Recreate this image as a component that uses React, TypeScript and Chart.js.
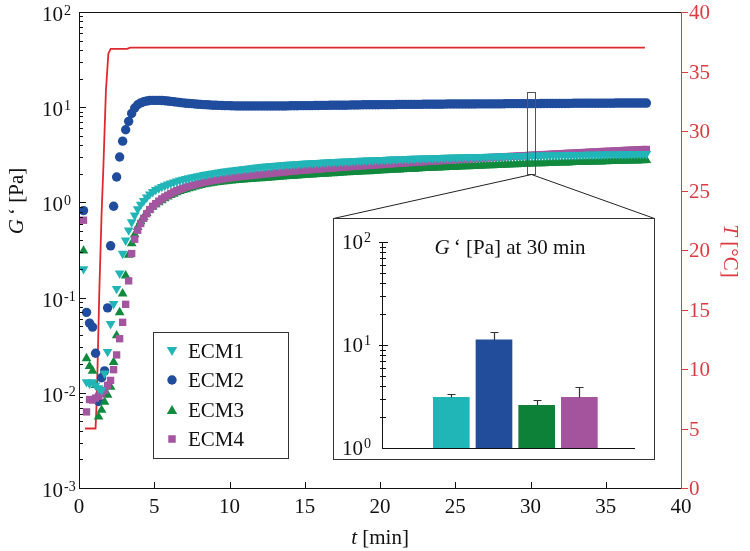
import React, { useEffect, useRef } from 'react';
import { Chart, registerables } from 'chart.js';
Chart.register(...registerables);

const SERIF = "'Liberation Serif', 'Times New Roman', serif";

// ---------------- data ----------------
const TIME_EARLY = [0.3, 0.5, 0.7, 0.9, 1.1, 1.3, 1.5, 1.7, 1.9, 2.1, 2.3, 2.5, 2.7, 2.9, 3.1, 3.3, 3.5, 3.7, 3.9, 4.1, 4.3, 4.5, 4.7, 4.9];
const TIME_LATE = [
  5.1, 5.3, 5.5, 5.7, 5.9, 6.1, 6.3, 6.5, 6.7, 6.9,
  7.1, 7.3, 7.5, 7.7, 7.9, 8.1, 8.3, 8.5, 8.7, 8.9,
  9.1, 9.3, 9.5, 9.7, 9.9, 10.1, 10.3, 10.5, 10.7, 10.9,
  11.1, 11.3, 11.5, 11.7, 11.9, 12.1, 12.3, 12.5, 12.7, 12.9,
  13.1, 13.3, 13.5, 13.7, 13.9, 14.1, 14.3, 14.5, 14.7, 14.9,
  15.1, 15.3, 15.5, 15.7, 15.9, 16.1, 16.3, 16.5, 16.7, 16.9,
  17.1, 17.3, 17.5, 17.7, 17.9, 18.1, 18.3, 18.5, 18.7, 18.9,
  19.1, 19.3, 19.5, 19.7, 19.9, 20.1, 20.3, 20.5, 20.7, 20.9,
  21.1, 21.3, 21.5, 21.7, 21.9, 22.1, 22.3, 22.5, 22.7, 22.9,
  23.1, 23.3, 23.5, 23.7, 23.9, 24.1, 24.3, 24.5, 24.7, 24.9,
  25.1, 25.3, 25.5, 25.7, 25.9, 26.1, 26.3, 26.5, 26.7, 26.9,
  27.1, 27.3, 27.5, 27.7, 27.9, 28.1, 28.3, 28.5, 28.7, 28.9,
  29.1, 29.3, 29.5, 29.7, 29.9, 30.1, 30.3, 30.5, 30.7, 30.9,
  31.1, 31.3, 31.5, 31.7, 31.9, 32.1, 32.3, 32.5, 32.7, 32.9,
  33.1, 33.3, 33.5, 33.7, 33.9, 34.1, 34.3, 34.5, 34.7, 34.9,
  35.1, 35.3, 35.5, 35.7, 35.9, 36.1, 36.3, 36.5, 36.7, 36.9,
  37.1, 37.3, 37.5, 37.7,
];

const ECM1_EARLY = [0.2, 0.013, 0.0125, 0.013, 0.012, 0.0112, 0.0106, 0.016, 0.027, 0.053, 0.086, 0.124, 0.18, 0.29, 0.4, 0.51, 0.62, 0.73, 0.85, 0.95, 1.04, 1.13, 1.22, 1.29];
const ECM1_LATE = [
  1.36, 1.41, 1.46, 1.5, 1.55, 1.59, 1.63, 1.67, 1.71, 1.74,
  1.77, 1.8, 1.83, 1.86, 1.89, 1.92, 1.95, 1.97, 2.0, 2.02,
  2.05, 2.07, 2.1, 2.12, 2.14, 2.16, 2.18, 2.2, 2.22, 2.24,
  2.26, 2.28, 2.3, 2.32, 2.34, 2.36, 2.38, 2.39, 2.41, 2.42,
  2.44, 2.45, 2.47, 2.48, 2.5, 2.51, 2.52, 2.53, 2.55, 2.56,
  2.57, 2.58, 2.59, 2.6, 2.61, 2.62, 2.63, 2.64, 2.65, 2.66,
  2.67, 2.68, 2.69, 2.7, 2.71, 2.72, 2.73, 2.74, 2.75, 2.76,
  2.77, 2.77, 2.78, 2.79, 2.8, 2.8, 2.81, 2.82, 2.83, 2.83,
  2.84, 2.85, 2.86, 2.86, 2.87, 2.88, 2.88, 2.89, 2.9, 2.9,
  2.91, 2.92, 2.92, 2.93, 2.93, 2.94, 2.95, 2.95, 2.96, 2.97,
  2.97, 2.98, 2.98, 2.99, 3.0, 3.0, 3.01, 3.01, 3.02, 3.02,
  3.03, 3.03, 3.04, 3.04, 3.05, 3.05, 3.06, 3.06, 3.07, 3.07,
  3.08, 3.08, 3.09, 3.09, 3.1, 3.1, 3.11, 3.11, 3.12, 3.12,
  3.13, 3.13, 3.13, 3.14, 3.14, 3.15, 3.15, 3.16, 3.16, 3.16,
  3.17, 3.17, 3.17, 3.18, 3.18, 3.19, 3.19, 3.19, 3.2, 3.2,
  3.2, 3.21, 3.21, 3.21, 3.22, 3.22, 3.22, 3.23, 3.23, 3.23,
  3.24, 3.24, 3.24, 3.24,
];

const ECM2_EARLY = [0.82, 0.07, 0.054, 0.049, 0.026, 0.0081, 0.0144, 0.017, 0.078, 0.35, 0.91, 1.85, 3.0, 4.4, 5.8, 7.1, 8.6, 9.8, 10.6, 11.1, 11.4, 11.6, 11.75, 11.8];
const ECM2_LATE = [
  11.8, 11.8, 11.75, 11.7, 11.6, 11.5, 11.4, 11.3, 11.2, 11.1,
  11.0, 10.95, 10.9, 10.8, 10.75, 10.7, 10.65, 10.6, 10.55, 10.5,
  10.48, 10.45, 10.42, 10.4, 10.38, 10.35, 10.33, 10.3, 10.3, 10.3,
  10.3, 10.3, 10.3, 10.3, 10.3, 10.3, 10.3, 10.3, 10.3, 10.3,
  10.3, 10.3, 10.3, 10.3, 10.32, 10.35, 10.35, 10.35, 10.38, 10.4,
  10.4, 10.4, 10.4, 10.42, 10.42, 10.45, 10.45, 10.45, 10.48, 10.5,
  10.5, 10.5, 10.5, 10.5, 10.52, 10.55, 10.55, 10.55, 10.58, 10.6,
  10.6, 10.6, 10.6, 10.6, 10.62, 10.65, 10.65, 10.65, 10.65, 10.65,
  10.68, 10.7, 10.7, 10.7, 10.7, 10.7, 10.7, 10.7, 10.72, 10.75,
  10.75, 10.75, 10.75, 10.75, 10.75, 10.75, 10.78, 10.8, 10.8, 10.8,
  10.8, 10.8, 10.8, 10.8, 10.8, 10.8, 10.82, 10.85, 10.85, 10.85,
  10.85, 10.85, 10.85, 10.85, 10.85, 10.85, 10.88, 10.9, 10.9, 10.9,
  10.9, 10.9, 10.9, 10.9, 10.9, 10.9, 10.9, 10.9, 10.92, 10.95,
  10.95, 10.95, 10.95, 10.95, 10.95, 10.95, 10.95, 10.95, 10.98, 11.0,
  11.0, 11.0, 11.0, 11.0, 11.0, 11.0, 11.0, 11.0, 11.0, 11.0,
  11.0, 11.0, 11.02, 11.05, 11.05, 11.05, 11.05, 11.05, 11.05, 11.05,
  11.05, 11.05, 11.05, 11.05,
];

const ECM3_EARLY = [0.31, 0.023, 0.019, 0.017, 0.012, 0.0056, 0.0066, 0.008, 0.0095, 0.0115, 0.021, 0.04, 0.07, 0.11, 0.17, 0.28, 0.37, 0.46, 0.55, 0.63, 0.7, 0.77, 0.84, 0.9];
const ECM3_LATE = [
  0.95, 1.0, 1.05, 1.1, 1.15, 1.19, 1.23, 1.27, 1.31, 1.34,
  1.37, 1.4, 1.43, 1.46, 1.49, 1.52, 1.54, 1.56, 1.58, 1.6,
  1.62, 1.63, 1.65, 1.66, 1.68, 1.69, 1.7, 1.71, 1.72, 1.73,
  1.74, 1.75, 1.76, 1.77, 1.78, 1.79, 1.8, 1.81, 1.82, 1.83,
  1.84, 1.85, 1.86, 1.87, 1.88, 1.89, 1.9, 1.91, 1.92, 1.93,
  1.94, 1.95, 1.96, 1.97, 1.98, 1.99, 1.99, 2.0, 2.01, 2.02,
  2.03, 2.04, 2.05, 2.06, 2.06, 2.07, 2.08, 2.09, 2.1, 2.11,
  2.11, 2.12, 2.13, 2.14, 2.15, 2.16, 2.17, 2.18, 2.19, 2.2,
  2.2, 2.21, 2.22, 2.23, 2.24, 2.25, 2.25, 2.26, 2.27, 2.28,
  2.29, 2.3, 2.3, 2.31, 2.32, 2.33, 2.33, 2.34, 2.35, 2.36,
  2.36, 2.37, 2.38, 2.39, 2.39, 2.4, 2.41, 2.42, 2.42, 2.43,
  2.44, 2.45, 2.45, 2.46, 2.47, 2.48, 2.48, 2.49, 2.5, 2.5,
  2.51, 2.52, 2.53, 2.54, 2.55, 2.55, 2.56, 2.56, 2.57, 2.57,
  2.58, 2.59, 2.6, 2.6, 2.61, 2.61, 2.62, 2.62, 2.63, 2.64,
  2.64, 2.65, 2.65, 2.66, 2.66, 2.67, 2.67, 2.68, 2.68, 2.7,
  2.7, 2.71, 2.71, 2.72, 2.72, 2.73, 2.73, 2.74, 2.74, 2.75,
  2.75, 2.76, 2.76, 2.77,
];

const ECM4_EARLY = [0.65, 0.0063, 0.0085, 0.0084, 0.0088, 0.0092, 0.0098, 0.0106, 0.012, 0.0135, 0.0175, 0.025, 0.037, 0.055, 0.085, 0.15, 0.29, 0.41, 0.51, 0.6, 0.68, 0.76, 0.84, 0.91];
const ECM4_LATE = [
  0.97, 1.03, 1.09, 1.14, 1.19, 1.24, 1.29, 1.33, 1.37, 1.41,
  1.45, 1.48, 1.51, 1.54, 1.57, 1.6, 1.63, 1.65, 1.68, 1.7,
  1.72, 1.74, 1.76, 1.78, 1.8, 1.82, 1.84, 1.85, 1.87, 1.88,
  1.9, 1.91, 1.93, 1.94, 1.96, 1.97, 1.99, 2.0, 2.02, 2.03,
  2.05, 2.06, 2.08, 2.09, 2.11, 2.12, 2.14, 2.15, 2.17, 2.18,
  2.19, 2.2, 2.22, 2.23, 2.24, 2.25, 2.27, 2.28, 2.29, 2.3,
  2.32, 2.33, 2.34, 2.35, 2.37, 2.38, 2.39, 2.4, 2.42, 2.43,
  2.44, 2.45, 2.47, 2.48, 2.49, 2.5, 2.52, 2.53, 2.54, 2.55,
  2.57, 2.58, 2.59, 2.6, 2.62, 2.63, 2.64, 2.65, 2.67, 2.68,
  2.69, 2.7, 2.72, 2.73, 2.74, 2.75, 2.77, 2.78, 2.79, 2.8,
  2.82, 2.83, 2.84, 2.85, 2.87, 2.88, 2.89, 2.9, 2.92, 2.93,
  2.94, 2.95, 2.97, 2.98, 2.99, 3.0, 3.02, 3.03, 3.04, 3.05,
  3.07, 3.08, 3.09, 3.1, 3.12, 3.13, 3.14, 3.15, 3.17, 3.18,
  3.19, 3.2, 3.22, 3.23, 3.24, 3.25, 3.27, 3.28, 3.29, 3.3,
  3.32, 3.33, 3.34, 3.35, 3.37, 3.38, 3.39, 3.4, 3.42, 3.43,
  3.44, 3.45, 3.47, 3.48, 3.49, 3.5, 3.52, 3.53, 3.54, 3.55,
  3.57, 3.58, 3.59, 3.6,
];

const TEMP_TIME = [0.4, 1.1, 1.18, 1.35, 1.5, 1.62, 1.79, 1.95, 2.1, 3.2, 3.4, 37.6];
const TEMP_C = [5, 5, 7.4, 16.5, 23, 27, 33.4, 36.5, 36.9, 36.9, 37, 37];

const SERIES_NAMES = ['ECM1', 'ECM2', 'ECM3', 'ECM4'];
const X_TICKS = [0, 5, 10, 15, 20, 25, 30, 35, 40];
const T_TICKS = [0, 5, 10, 15, 20, 25, 30, 35, 40];
const G_DECADES = [-3, -2, -1, 0, 1, 2];
const MINOR_MULT = [2, 3, 4, 5, 6, 7, 8, 9];

// zoom window around t = 30 min
const ZOOM_T = [29.8, 30.3];
const ZOOM_G = [1.97, 14.3];

// inset: G' at 30 min
const INSET_POS = [1, 2, 3, 4];
const INSET_G30 = [3.1, 11.2, 2.6, 3.1];
const INSET_ERR = [0.25, 2.2, 0.3, 0.8];
const INSET_DECADES = [0, 1, 2];

// ---------------- styles ----------------
const C_ECM1 = '#22B5B7';
const C_ECM2 = '#1F4C9C';
const C_ECM3 = '#118A3E';
const C_ECM4 = '#A4559F';
const C_RED = '#DD2A30';
const C_RED_AXIS = '#DA3C41';
const BAR_COLORS = ['#20B6B8', '#214D9B', '#0E8139', '#A4549D'];
const INK = '#111';
const INSET_BOX = { left: 333, top: 218, width: 322, height: 242 };

type Seg = { t: string; it?: boolean };
function richWidth(ctx: CanvasRenderingContext2D, segs: Seg[], size: number) {
  let w = 0;
  for (const s of segs) {
    ctx.font = `${s.it ? 'italic ' : ''}${size}px ${SERIF}`;
    w += ctx.measureText(s.t).width;
  }
  return w;
}
function drawRich(ctx: CanvasRenderingContext2D, segs: Seg[], x: number, y: number, size: number, color: string) {
  const w = richWidth(ctx, segs, size);
  let cx = x - w / 2;
  ctx.fillStyle = color;
  ctx.textAlign = 'left';
  ctx.textBaseline = 'alphabetic';
  for (const s of segs) {
    ctx.font = `${s.it ? 'italic ' : ''}${size}px ${SERIF}`;
    ctx.fillText(s.t, cx, y);
    cx += ctx.measureText(s.t).width;
  }
}
function drawPow(ctx: CanvasRenderingContext2D, e: number, xRight: number, y: number, baseDy: number, expDy: number) {
  ctx.fillStyle = INK;
  ctx.textBaseline = 'alphabetic';
  ctx.font = `21px ${SERIF}`;
  ctx.textAlign = 'right';
  ctx.fillText('10', xRight, y + baseDy);
  ctx.font = `14px ${SERIF}`;
  ctx.textAlign = 'left';
  ctx.fillText(String(e), xRight + 1, y + expDy);
}
function marker(ctx: CanvasRenderingContext2D, kind: string, x: number, y: number, r: number, color: string) {
  ctx.fillStyle = color;
  ctx.beginPath();
  if (kind === 'circle') {
    ctx.arc(x, y, r, 0, Math.PI * 2);
  } else if (kind === 'tri') {
    ctx.moveTo(x, y - r);
    ctx.lineTo(x + r * 0.866, y + r / 2);
    ctx.lineTo(x - r * 0.866, y + r / 2);
    ctx.closePath();
  } else if (kind === 'triDown') {
    ctx.moveTo(x, y + r);
    ctx.lineTo(x + r * 0.866, y - r / 2);
    ctx.lineTo(x - r * 0.866, y - r / 2);
    ctx.closePath();
  } else {
    const s = r * 0.7071;
    ctx.rect(x - s, y - s, 2 * s, 2 * s);
  }
  ctx.fill();
}

const mainDecor = {
  id: 'mainDecor',
  afterDatasetsDraw(chart: any) {
    const ctx: CanvasRenderingContext2D = chart.ctx;
    const a = chart.chartArea;
    const sx = chart.scales.x, sy = chart.scales.y, sr = chart.scales.y1;
    ctx.save();

    // zoom window + connectors to inset
    const rx0 = Math.round(sx.getPixelForValue(ZOOM_T[0]));
    const rx1 = Math.round(sx.getPixelForValue(ZOOM_T[1]));
    const ryTop = Math.round(sy.getPixelForValue(ZOOM_G[1]));
    const ryBot = Math.round(sy.getPixelForValue(ZOOM_G[0]));
    ctx.strokeStyle = '#555';
    ctx.lineWidth = 1;
    ctx.strokeRect(rx0 + 0.5, ryTop + 0.5, rx1 - rx0, ryBot - ryTop);
    const cxm = (rx0 + rx1) / 2 + 0.5;
    ctx.strokeStyle = '#222';
    ctx.beginPath();
    ctx.moveTo(cxm, ryBot + 0.5);
    ctx.lineTo(INSET_BOX.left + 0.5, INSET_BOX.top + 0.5);
    ctx.moveTo(cxm, ryBot + 0.5);
    ctx.lineTo(INSET_BOX.left + INSET_BOX.width - 0.5, INSET_BOX.top + 0.5);
    ctx.stroke();

    // frame
    ctx.strokeStyle = INK;
    ctx.lineWidth = 1;
    ctx.beginPath();
    ctx.moveTo(a.left, a.top + 0.5);
    ctx.lineTo(a.right, a.top + 0.5);
    ctx.moveTo(a.left + 0.5, a.top);
    ctx.lineTo(a.left + 0.5, a.bottom + 1);
    ctx.moveTo(a.left, a.bottom + 0.5);
    ctx.lineTo(a.right, a.bottom + 0.5);
    for (const e of G_DECADES) {
      const v = Math.pow(10, e);
      const py = Math.round(sy.getPixelForValue(v)) + 0.5;
      if (e > -3 && e < 2) {
        ctx.moveTo(a.left, py);
        ctx.lineTo(a.left + 7, py);
      }
      if (e < 2) {
        for (const m of MINOR_MULT) {
          const pm = Math.round(sy.getPixelForValue(m * v)) + 0.5;
          ctx.moveTo(a.left, pm);
          ctx.lineTo(a.left + 4, pm);
        }
      }
    }
    for (const t of X_TICKS) {
      if (t === 0 || t === 40) continue;
      const px = Math.round(sx.getPixelForValue(t)) + 0.5;
      ctx.moveTo(px, a.bottom);
      ctx.lineTo(px, a.bottom - 6);
    }
    ctx.stroke();

    // right (temperature) axis
    ctx.strokeStyle = C_RED_AXIS;
    ctx.beginPath();
    ctx.moveTo(a.right + 0.5, a.top);
    ctx.lineTo(a.right + 0.5, a.bottom + 1);
    for (const t of T_TICKS) {
      const py = Math.round(sr.getPixelForValue(t)) + 0.5;
      ctx.moveTo(a.right, py);
      ctx.lineTo(a.right + 7, py);
    }
    ctx.stroke();

    // tick labels
    for (const e of G_DECADES) {
      drawPow(ctx, e, 63, sy.getPixelForValue(Math.pow(10, e)), 9, 3);
    }
    ctx.font = `21px ${SERIF}`;
    ctx.fillStyle = INK;
    ctx.textAlign = 'center';
    ctx.textBaseline = 'alphabetic';
    for (const t of X_TICKS) {
      ctx.fillText(String(t), sx.getPixelForValue(t), 513);
    }
    ctx.fillStyle = C_RED_AXIS;
    ctx.textAlign = 'left';
    for (const t of T_TICKS) {
      ctx.fillText(String(t), a.right + 8, sr.getPixelForValue(t) + 7);
    }

    // axis titles
    drawRich(ctx, [{ t: 't', it: true }, { t: ' [min]' }], 380, 544, 21, INK);
    ctx.save();
    ctx.translate(23, 201);
    ctx.rotate(-Math.PI / 2);
    drawRich(ctx, [{ t: 'G', it: true }, { t: '\u2009\u2018 [Pa]' }], 0, 0, 21, INK);
    ctx.restore();
    ctx.save();
    ctx.translate(724, 251);
    ctx.rotate(Math.PI / 2);
    drawRich(ctx, [{ t: 'T', it: true }, { t: ' [\u00B0C]' }], 0, 0, 21, C_RED_AXIS);
    ctx.restore();

    // legend
    const lx = 153, ly = 332, lw = 135, lh = 126;
    ctx.fillStyle = '#fff';
    ctx.fillRect(lx, ly, lw, lh);
    ctx.strokeStyle = '#333';
    ctx.strokeRect(lx + 0.5, ly + 0.5, lw, lh);
    const kinds = ['triDown', 'circle', 'tri', 'rect'];
    const cols = [C_ECM1, C_ECM2, C_ECM3, C_ECM4];
    const radii = [6, 4.7, 6, 5.3];
    const rows = [351, 380, 410, 439];
    SERIES_NAMES.forEach((name, i) => {
      const my = rows[i] + (kinds[i] === 'triDown' ? -1 : kinds[i] === 'tri' ? 1 : 0);
      marker(ctx, kinds[i], 172, my, radii[i], cols[i]);
      ctx.fillStyle = INK;
      ctx.font = `21px ${SERIF}`;
      ctx.textAlign = 'left';
      ctx.textBaseline = 'alphabetic';
      ctx.fillText(name, 188, rows[i] + 7);
    });

    ctx.restore();
  },
};

const insetDecor = {
  id: 'insetDecor',
  afterDatasetsDraw(chart: any) {
    const ctx: CanvasRenderingContext2D = chart.ctx;
    const a = chart.chartArea;
    const sx = chart.scales.x, sy = chart.scales.y;
    ctx.save();
    ctx.strokeStyle = '#333';
    ctx.lineWidth = 1.2;
    ctx.beginPath();
    INSET_POS.forEach((p, i) => {
      const px = Math.round(sx.getPixelForValue(p)) + 0.5;
      const top = sy.getPixelForValue(INSET_G30[i]);
      const et = Math.round(sy.getPixelForValue(INSET_G30[i] + INSET_ERR[i])) + 0.5;
      ctx.moveTo(px, top);
      ctx.lineTo(px, et);
      ctx.moveTo(px - 4, et);
      ctx.lineTo(px + 4, et);
    });
    ctx.stroke();
    ctx.strokeStyle = INK;
    ctx.lineWidth = 1;
    ctx.beginPath();
    ctx.moveTo(a.left + 0.5, a.top);
    ctx.lineTo(a.left + 0.5, a.bottom + 1);
    ctx.moveTo(a.left, a.bottom + 0.5);
    ctx.lineTo(a.right, a.bottom + 0.5);
    for (const e of INSET_DECADES) {
      const v = Math.pow(10, e);
      const py = Math.round(sy.getPixelForValue(v)) + 0.5;
      if (e > 0) {
        ctx.moveTo(a.left - 3, py);
        ctx.lineTo(a.left + 6, py);
      }
      if (e < 2) {
        for (const m of MINOR_MULT) {
          const pm = Math.round(sy.getPixelForValue(m * v)) + 0.5;
          ctx.moveTo(a.left - 2, pm);
          ctx.lineTo(a.left + 4, pm);
        }
      }
    }
    ctx.stroke();
    for (const e of INSET_DECADES) {
      drawPow(ctx, e, 29, sy.getPixelForValue(Math.pow(10, e)), 6.5, 0);
    }
    drawRich(ctx, [{ t: 'G', it: true }, { t: '\u2009\u2018 [Pa] at 30 min' }], 176, 35, 21, INK);
    ctx.restore();
  },
};

const hidden = { grid: { display: false }, border: { display: false }, ticks: { display: false } };

function pts(ts: number[], vs: number[]) {
  return ts.map((t, i) => ({ x: t, y: vs[i] }));
}

export default function App() {
  const mainRef = useRef<HTMLCanvasElement>(null);
  const insetRef = useRef<HTMLCanvasElement>(null);

  useEffect(() => {
    const time = [...TIME_EARLY, ...TIME_LATE];
    const main = new Chart(mainRef.current as HTMLCanvasElement, {
      type: 'scatter',
      data: {
        datasets: [
          { label: SERIES_NAMES[0], data: pts(time, [...ECM1_EARLY, ...ECM1_LATE]), pointStyle: 'triangle', rotation: 180, pointRadius: 5.6, backgroundColor: C_ECM1, borderWidth: 0, order: 0 } as any,
          { label: SERIES_NAMES[1], data: pts(time, [...ECM2_EARLY, ...ECM2_LATE]), pointStyle: 'circle', pointRadius: 4.7, backgroundColor: C_ECM2, borderWidth: 0, order: 3 } as any,
          { label: SERIES_NAMES[2], data: pts(time, [...ECM3_EARLY, ...ECM3_LATE]), pointStyle: 'triangle', pointRadius: 5.6, backgroundColor: C_ECM3, borderWidth: 0, order: 2 } as any,
          { label: SERIES_NAMES[3], data: pts(time, [...ECM4_EARLY, ...ECM4_LATE]), pointStyle: 'rect', pointRadius: 5.2, backgroundColor: C_ECM4, borderWidth: 0, order: 1 } as any,
          { type: 'line', label: 'T', data: pts(TEMP_TIME, TEMP_C), yAxisID: 'y1', borderColor: C_RED, borderWidth: 1.8, pointRadius: 0, tension: 0, fill: false, order: 10 } as any,
        ],
      },
      options: {
        animation: false,
        responsive: false,
        events: [],
        layout: { padding: { top: 12, left: 0, right: 0, bottom: 0 } },
        plugins: { legend: { display: false }, tooltip: { enabled: false } },
        scales: {
          x: { type: 'linear', min: 0, max: 40, ...hidden, afterFit: (s: any) => { s.height = 63; } },
          y: { type: 'logarithmic', position: 'left', min: 0.001, max: 100, ...hidden, afterFit: (s: any) => { s.width = 79; } },
          y1: { type: 'linear', position: 'right', min: 0, max: 40, ...hidden, afterFit: (s: any) => { s.width = 69; } },
        } as any,
      },
      plugins: [mainDecor],
    });

    const inset = new Chart(insetRef.current as HTMLCanvasElement, {
      type: 'bar',
      data: {
        datasets: [
          {
            label: "G' at 30 min",
            data: INSET_POS.map((p, i) => ({ x: p, y: INSET_G30[i] })),
            backgroundColor: BAR_COLORS,
            borderWidth: 0,
            barThickness: 36,
          } as any,
        ],
      },
      options: {
        animation: false,
        responsive: false,
        events: [],
        layout: { padding: { top: 23, right: 19, left: 0, bottom: 0 } },
        plugins: { legend: { display: false }, tooltip: { enabled: false } },
        scales: {
          x: { type: 'linear', min: -0.13, max: 4.81, ...hidden, afterFit: (s: any) => { s.height = 11; } },
          y: { type: 'logarithmic', min: 1, max: 100, ...hidden, afterFit: (s: any) => { s.width = 48; } },
        } as any,
      },
      plugins: [insetDecor],
    });

    return () => {
      main.destroy();
      inset.destroy();
    };
  }, []);

  return (
    <div style={{ position: 'absolute', left: 0, top: 0, width: 750, height: 551, background: '#fff' }}>
      <canvas ref={mainRef} width={750} height={551} style={{ position: 'absolute', left: 0, top: 0 }} />
      <div
        style={{
          position: 'absolute',
          left: INSET_BOX.left,
          top: INSET_BOX.top,
          width: INSET_BOX.width,
          height: INSET_BOX.height,
          boxSizing: 'border-box',
          border: '1px solid #333',
          background: '#fff',
        }}
      >
        <canvas ref={insetRef} width={320} height={240} style={{ display: 'block' }} />
      </div>
    </div>
  );
}
